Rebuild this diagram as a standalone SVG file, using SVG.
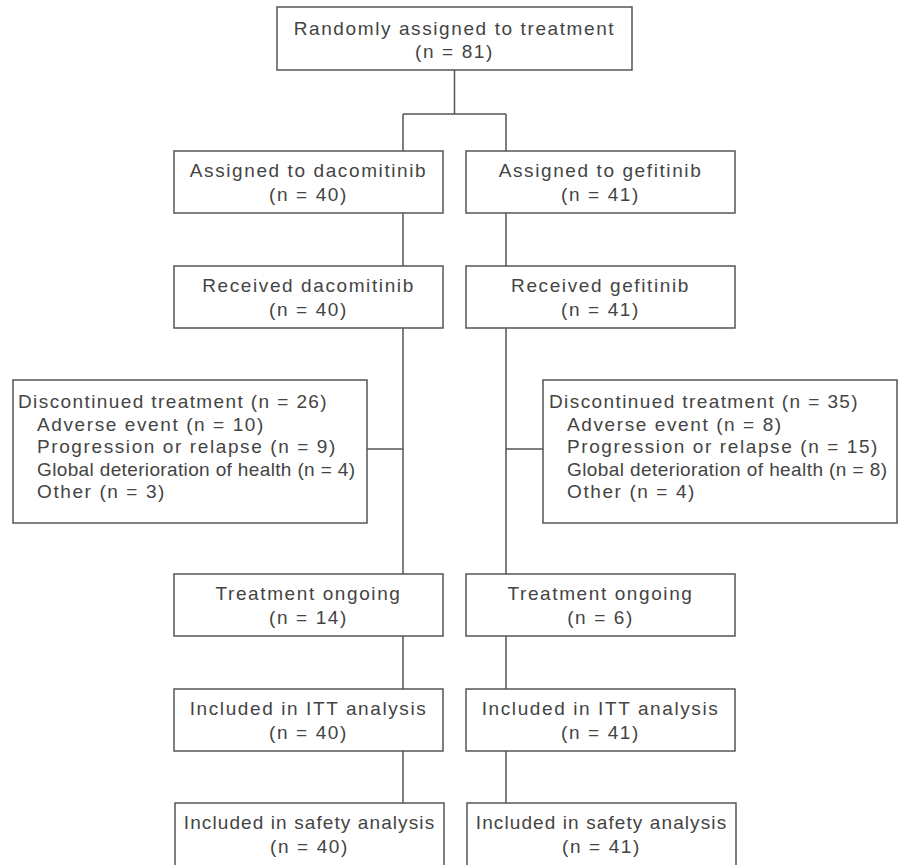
<svg xmlns="http://www.w3.org/2000/svg" width="900" height="865" viewBox="0 0 900 865">
<style>
  .box { fill: #ffffff; stroke: #555555; stroke-width: 1.5; }
  .t { font-family: "Liberation Sans", Arial, sans-serif; font-size: 19px; fill: #444444; letter-spacing: 1.6px; }
  .c { text-anchor: middle; }
  .conn { fill: none; stroke: #555555; stroke-width: 1.5; }
</style>
<rect width="900" height="865" fill="#ffffff"/>
<g id="connectors">
  <path class="conn" d="M454.5,70 V114 M403,114 H506 M403,114 V151 M506,114 V151"/>
  <path class="conn" d="M403,213 V266 M506,213 V266"/>
  <path class="conn" d="M403,328 V574 M506,328 V574"/>
  <path class="conn" d="M367,449 H403 M506,449 H543"/>
  <path class="conn" d="M403,636 V689 M506,636 V689"/>
  <path class="conn" d="M403,751 V803 M506,751 V803"/>
</g>
<g id="randomised">
  <rect class="box" x="277" y="7" width="355" height="63"/>
  <text class="t c" x="454.5" y="35">Randomly assigned to treatment</text>
  <text class="t c" x="454.5" y="58">(n = 81)</text>
</g>
<g id="assigned-dacomitinib">
  <rect class="box" x="174" y="151" width="269" height="62"/>
  <text class="t c" x="308.5" y="177">Assigned to dacomitinib</text>
  <text class="t c" x="308.5" y="201">(n = 40)</text>
</g>
<g id="assigned-gefitinib">
  <rect class="box" x="466" y="151" width="269" height="62"/>
  <text class="t c" x="600.5" y="177">Assigned to gefitinib</text>
  <text class="t c" x="600.5" y="201">(n = 41)</text>
</g>
<g id="received-dacomitinib">
  <rect class="box" x="174" y="266" width="269" height="62"/>
  <text class="t c" x="308.5" y="292">Received dacomitinib</text>
  <text class="t c" x="308.5" y="316">(n = 40)</text>
</g>
<g id="received-gefitinib">
  <rect class="box" x="466" y="266" width="269" height="62"/>
  <text class="t c" x="600.5" y="292">Received gefitinib</text>
  <text class="t c" x="600.5" y="316">(n = 41)</text>
</g>
<g id="discontinued-dacomitinib">
  <rect class="box" x="13" y="380" width="354" height="143"/>
  <text class="t" x="18" y="408" style="letter-spacing:1.4px">Discontinued treatment (n = 26)</text>
  <text class="t" x="37" y="431">Adverse event (n = 10)</text>
  <text class="t" x="37" y="453">Progression or relapse (n = 9)</text>
  <text class="t" x="37" y="476" style="letter-spacing:0" textLength="318" lengthAdjust="spacing">Global deterioration of health (n = 4)</text>
  <text class="t" x="37" y="498">Other (n = 3)</text>
</g>
<g id="discontinued-gefitinib">
  <rect class="box" x="543" y="380" width="354" height="143"/>
  <text class="t" x="549" y="408" style="letter-spacing:1.4px">Discontinued treatment (n = 35)</text>
  <text class="t" x="567" y="431">Adverse event (n = 8)</text>
  <text class="t" x="567" y="453">Progression or relapse (n = 15)</text>
  <text class="t" x="567" y="476" style="letter-spacing:0" textLength="320" lengthAdjust="spacing">Global deterioration of health (n = 8)</text>
  <text class="t" x="567" y="498">Other (n = 4)</text>
</g>
<g id="ongoing-dacomitinib">
  <rect class="box" x="174" y="574" width="269" height="62"/>
  <text class="t c" x="308.5" y="600">Treatment ongoing</text>
  <text class="t c" x="308.5" y="624">(n = 14)</text>
</g>
<g id="ongoing-gefitinib">
  <rect class="box" x="466" y="574" width="269" height="62"/>
  <text class="t c" x="600.5" y="600">Treatment ongoing</text>
  <text class="t c" x="600.5" y="624">(n = 6)</text>
</g>
<g id="itt-dacomitinib">
  <rect class="box" x="174" y="689" width="269" height="62"/>
  <text class="t c" x="308.5" y="715">Included in ITT analysis</text>
  <text class="t c" x="308.5" y="739">(n = 40)</text>
</g>
<g id="itt-gefitinib">
  <rect class="box" x="466" y="689" width="269" height="62"/>
  <text class="t c" x="600.5" y="715">Included in ITT analysis</text>
  <text class="t c" x="600.5" y="739">(n = 41)</text>
</g>
<g id="safety-dacomitinib">
  <rect class="box" x="175" y="803" width="269" height="63"/>
  <text class="t c" x="309.5" y="829" style="letter-spacing:1.1px">Included in safety analysis</text>
  <text class="t c" x="309.5" y="853">(n = 40)</text>
</g>
<g id="safety-gefitinib">
  <rect class="box" x="467" y="803" width="269" height="63"/>
  <text class="t c" x="601.5" y="829" style="letter-spacing:1.1px">Included in safety analysis</text>
  <text class="t c" x="601.5" y="853">(n = 41)</text>
</g>
</svg>
